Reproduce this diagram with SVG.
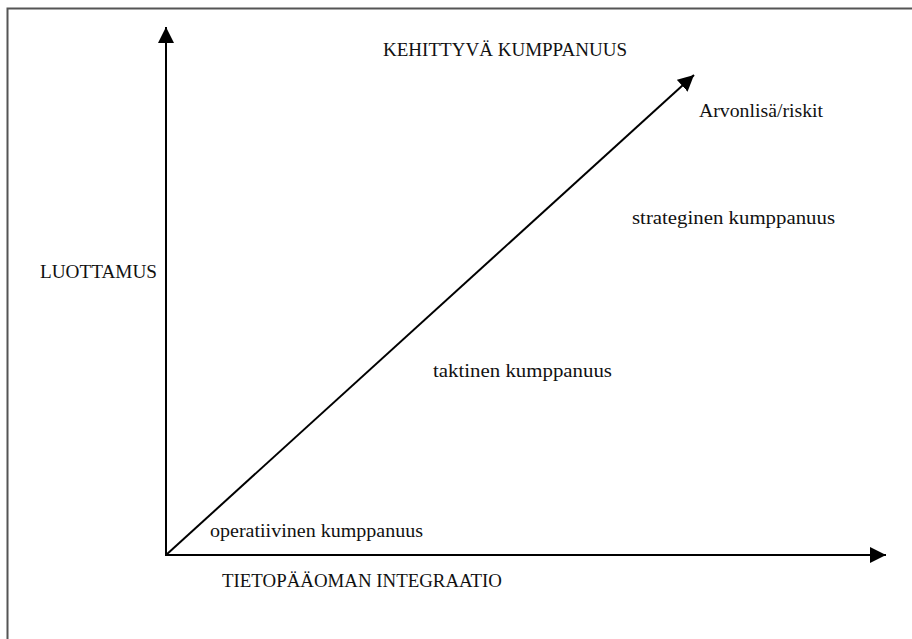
<svg xmlns="http://www.w3.org/2000/svg" width="912" height="639" viewBox="0 0 912 639">
<style>
.t{font-family:"Liberation Serif","DejaVu Serif",serif;font-size:18px;fill:#111;}
.ax{stroke:#000;stroke-width:2;fill:none;}
</style>
<defs>
<marker id="ah" viewBox="0 0 16 16" refX="16" refY="8" markerWidth="16" markerHeight="16" markerUnits="userSpaceOnUse" orient="auto">
<path d="M0,0 L16,8 L0,16 Z" fill="#000"/>
</marker>
</defs>
<rect width="912" height="639" fill="#fff"/>
<path d="M7.5,640 V8.5 H913" fill="none" stroke="#555" stroke-width="2"/>
<g id="connectors">
<line class="ax" x1="166" y1="556" x2="166" y2="27" marker-end="url(#ah)"/>
<line class="ax" x1="165" y1="555" x2="886" y2="555" marker-end="url(#ah)"/>
<line class="ax" x1="166" y1="555" x2="694" y2="75" marker-end="url(#ah)"/>
</g>
<g id="kehittyva"><text class="t" x="383" y="56" textLength="244" lengthAdjust="spacingAndGlyphs">KEHITTYVÄ KUMPPANUUS</text></g>
<g id="arvonlisa"><text class="t" x="699" y="117" textLength="124" lengthAdjust="spacingAndGlyphs">Arvonlisä/riskit</text></g>
<g id="strateginen"><text class="t" x="632" y="224" textLength="203" lengthAdjust="spacingAndGlyphs">strateginen kumppanuus</text></g>
<g id="luottamus"><text class="t" x="40" y="278" textLength="117" lengthAdjust="spacingAndGlyphs">LUOTTAMUS</text></g>
<g id="taktinen"><text class="t" x="433" y="377" textLength="179" lengthAdjust="spacingAndGlyphs">taktinen kumppanuus</text></g>
<g id="operatiivinen"><text class="t" x="210" y="537" textLength="213" lengthAdjust="spacingAndGlyphs">operatiivinen kumppanuus</text></g>
<g id="tietopaaoma"><text class="t" x="222" y="587" textLength="280" lengthAdjust="spacingAndGlyphs">TIETOPÄÄOMAN INTEGRAATIO</text></g>
</svg>
